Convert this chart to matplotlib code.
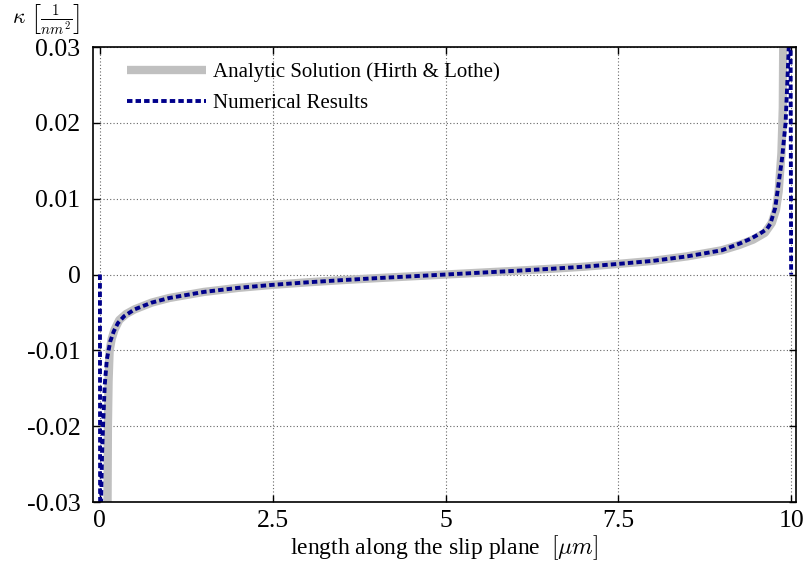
import matplotlib
matplotlib.use("Agg")
import matplotlib.pyplot as plt

plt.rcParams['font.family'] = ['Liberation Serif', 'DejaVu Serif']
plt.rcParams['mathtext.fontset'] = 'cm'
plt.rcParams['axes.unicode_minus'] = False

# Numerical results (dashed navy)
num_x = [0, 0.005, 0.015, 0.03, 0.045, 0.07, 0.1, 0.15, 0.2, 0.26, 0.35, 0.5, 0.75,
         1, 1.5, 2, 2.5, 3, 3.5, 4, 4.5, 5, 5.5, 6, 6.5, 7, 7.5, 8, 8.5, 9.0,
         9.26, 9.41, 9.55, 9.65, 9.70, 9.77, 9.81, 9.87, 9.92, 9.95, 9.97, 9.985, 10]
num_y = [0, -0.06, -0.031, -0.024, -0.02, -0.0145, -0.0112, -0.0088, -0.0075, -0.0064,
         -0.0055, -0.0046, -0.0037, -0.0031, -0.0023, -0.00176, -0.00136, -0.00103,
         -0.00074, -0.00048, -0.00024, 0, 0.00024, 0.00048, 0.00074, 0.00103, 0.0014,
         0.0018, 0.0024, 0.0032, 0.0041, 0.0047, 0.0054, 0.0060, 0.0067, 0.0088, 0.0114,
         0.0154, 0.020, 0.0264, 0.031, 0.06, 0]

# Analytic solution (Hirth & Lothe), thick grey
ana_x = [0.105, 0.11, 0.115, 0.125, 0.14, 0.17, 0.21, 0.28, 0.38, 0.5, 0.75, 1, 1.5, 2,
         2.5, 3, 3.5, 4, 4.5, 5, 5.5, 6, 6.5, 7, 7.5, 8, 8.5, 9, 9.25, 9.45, 9.62,
         9.72, 9.78, 9.82, 9.86, 9.88, 9.89]
ana_y = [-0.036, -0.03, -0.02, -0.014, -0.01, -0.0085, -0.0073, -0.006, -0.0052, -0.0046,
         -0.0037, -0.0031, -0.0023, -0.00176, -0.00136, -0.00103, -0.00074, -0.00048,
         -0.00024, 0, 0.00024, 0.00048, 0.00074, 0.00103, 0.0014, 0.0018, 0.0024, 0.0032,
         0.0039, 0.0046, 0.0055, 0.0068, 0.0085, 0.011, 0.016, 0.022, 0.036]

x_ticks = [0, 2.5, 5, 7.5, 10]
x_labels = ['0', '2.5', '5', '7.5', '10']
y_ticks = [-0.03, -0.02, -0.01, 0, 0.01, 0.02, 0.03]
y_labels = ['-0.03', '-0.02', '-0.01', '0', '0.01', '0.02', '0.03']

fig = plt.figure(figsize=(8.04, 5.63), dpi=100)
ax = fig.add_axes([0.1157, 0.1083, 0.8743, 0.8082])

ax.plot(ana_x, ana_y, color='#c0c0c0', lw=6, solid_capstyle='butt',
        label='Analytic Solution (Hirth & Lothe)')
ax.plot(num_x, num_y, color='#00008b', lw=2.8, linestyle=(0, (1.4, 0.8)),
        label='Numerical Results')

ax.set_xlim(-0.1, 10.07)
ax.set_ylim(-0.03, 0.03)
ax.set_xticks(x_ticks)
ax.set_xticklabels(x_labels)
ax.set_yticks(y_ticks)
ax.set_yticklabels(y_labels)
ax.tick_params(direction='in', top=True, right=True, length=5, width=1,
               labelsize=18.5)
ax.tick_params(axis='y', pad=9)
ax.tick_params(axis='x', pad=6)
ax.grid(True, linestyle=(0, (1, 2)), color='#666666', lw=0.8)
for s in ax.spines.values():
    s.set_linewidth(1.2)

ax.set_xlabel(r'length along the slip plane  $[\mu m]$', fontsize=17, labelpad=1)
fig.text(12 / 804, 1 - 20 / 563, r'$\kappa\ \left[\frac{1}{nm^2}\right]$',
         fontsize=15.5, ha='left', va='center')

ax.legend(loc='upper left', bbox_to_anchor=(0.048, 0.966), frameon=False,
          fontsize=15, handlelength=3.8, handletextpad=0.35, borderpad=0,
          borderaxespad=0, labelspacing=0.55)

fig.savefig('out.png', dpi=100)
